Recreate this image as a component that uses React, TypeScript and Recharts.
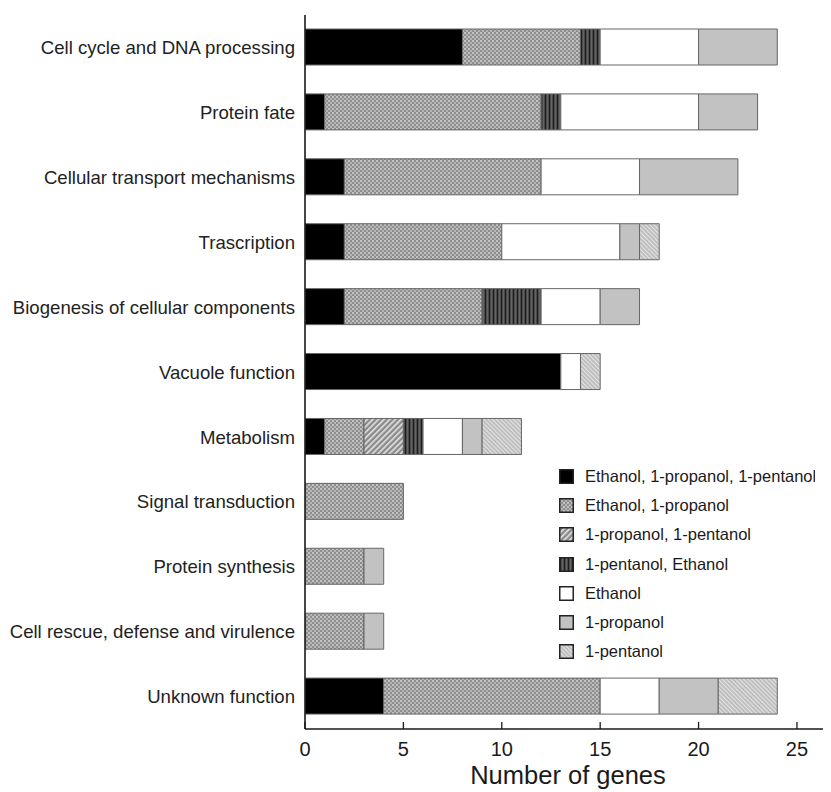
import { BarChart, Bar, XAxis, YAxis, Legend } from 'recharts'

const FONT = '"Liberation Sans", Arial, sans-serif'

const categories = [
  'Cell cycle and DNA processing',
  'Protein fate',
  'Cellular transport mechanisms',
  'Trascription',
  'Biogenesis of cellular components',
  'Vacuole function',
  'Metabolism',
  'Signal transduction',
  'Protein synthesis',
  'Cell rescue, defense and virulence',
  'Unknown function',
]

const ethPropPent = [8, 1, 2, 2, 2, 13, 1, 0, 0, 0, 4]
const ethProp = [6, 11, 10, 8, 7, 0, 2, 5, 3, 3, 11]
const propPent = [0, 0, 0, 0, 0, 0, 2, 0, 0, 0, 0]
const pentEth = [1, 1, 0, 0, 3, 0, 1, 0, 0, 0, 0]
const ethanol = [5, 7, 5, 6, 3, 1, 2, 0, 0, 0, 3]
const propanol = [4, 3, 5, 1, 2, 0, 1, 0, 1, 1, 3]
const pentanol = [0, 0, 0, 1, 0, 1, 2, 0, 0, 0, 3]

const xTicks = [0, 5, 10, 15, 20, 25]

const data = categories.map((name, i) => ({
  name,
  ethPropPent: ethPropPent[i],
  ethProp: ethProp[i],
  propPent: propPent[i],
  pentEth: pentEth[i],
  ethanol: ethanol[i],
  propanol: propanol[i],
  pentanol: pentanol[i],
}))

const series = [
  { key: 'ethPropPent', label: 'Ethanol, 1-propanol, 1-pentanol', fill: '#000000' },
  { key: 'ethProp', label: 'Ethanol, 1-propanol', fill: 'url(#patDots)' },
  { key: 'propPent', label: '1-propanol, 1-pentanol', fill: 'url(#patDiag)' },
  { key: 'pentEth', label: '1-pentanol, Ethanol', fill: 'url(#patStripes)' },
  { key: 'ethanol', label: 'Ethanol', fill: '#ffffff' },
  { key: 'propanol', label: '1-propanol', fill: '#c2c2c2' },
  { key: 'pentanol', label: '1-pentanol', fill: 'url(#patLight)' },
]
const order = series.map((s) => s.label)

const XTick = ({ x, y, payload }: any) => (
  <g>
    <line x1={x} x2={x} y1={y - 7} y2={y} stroke="#1a1a1a" strokeWidth={1.3} />
    <text x={x} y={y + 27} textAnchor="middle" fontSize={20} fill="#1a1a1a" fontFamily={FONT}>
      {payload.value}
    </text>
  </g>
)

const LegendBox = ({ payload }: any) => {
  const items = [...(payload || [])].sort((a: any, b: any) => order.indexOf(a.value) - order.indexOf(b.value))
  return (
    <div
      style={{
        width: 256,
        overflow: 'hidden',
        whiteSpace: 'nowrap',
        fontFamily: FONT,
        fontSize: 16.5,
        color: '#1a1a1a',
      }}
    >
      {items.map((p: any) => (
        <div key={p.value} style={{ display: 'flex', alignItems: 'center', height: 29.2 }}>
          <svg width={15} height={15} style={{ marginRight: 11, flex: 'none' }}>
            <rect x={0.75} y={0.75} width={13.5} height={13.5} fill={p.color} stroke="#222" strokeWidth={1.5} />
          </svg>
          <span>{p.value}</span>
        </div>
      ))}
    </div>
  )
}

export default function App() {
  return (
    <div style={{ width: 823, height: 784, overflow: 'hidden' }}>
      <BarChart
        width={823}
        height={784}
        data={data}
        layout="vertical"
        margin={{ top: 7, right: 0, bottom: 0, left: 0 }}
        barSize={36}
      >
        <defs>
          <pattern id="patDots" width="4" height="4" patternUnits="userSpaceOnUse">
            <rect width="4" height="4" fill="#8e8e8e" />
            <circle cx="1" cy="1" r="0.9" fill="#dcdcdc" />
            <circle cx="3" cy="3" r="0.9" fill="#c8c8c8" />
          </pattern>
          <pattern id="patDiag" width="4" height="4" patternUnits="userSpaceOnUse" patternTransform="rotate(45)">
            <rect width="4" height="4" fill="#8a8a8a" />
            <rect width="1.6" height="4" fill="#e4e4e4" />
          </pattern>
          <pattern id="patStripes" width="4" height="4" patternUnits="userSpaceOnUse">
            <rect width="4" height="4" fill="#4a4a4a" />
            <rect x="1" width="1" height="4" fill="#1e1e1e" />
            <rect x="3" width="0.8" height="4" fill="#6a6a6a" />
          </pattern>
          <pattern id="patLight" width="3" height="3" patternUnits="userSpaceOnUse" patternTransform="rotate(-45)">
            <rect width="3" height="3" fill="#bcbcbc" />
            <rect width="1.2" height="3" fill="#e2e2e2" />
          </pattern>
        </defs>
        <XAxis
          type="number"
          domain={[0, 26.73]}
          ticks={xTicks}
          allowDataOverflow
          height={63}
          tickSize={0}
          tickMargin={0}
          tick={<XTick />}
          axisLine={{ stroke: '#1a1a1a', strokeWidth: 1.6 }}
          label={{
            value: 'Number of genes',
            position: 'insideBottom',
            offset: 8,
            fontSize: 25.5,
            fill: '#1a1a1a',
            fontFamily: FONT,
          }}
        />
        <YAxis
          type="category"
          dataKey="name"
          width={297}
          tickSize={0}
          tickMargin={10}
          interval={0}
          tickLine={false}
          axisLine={{ stroke: '#1a1a1a', strokeWidth: 1.6 }}
          tick={{ fontSize: 18.6, fill: '#222', fontFamily: FONT }}
        />
        <Legend
          content={<LegendBox />}
          layout="vertical"
          align="center"
          verticalAlign="middle"
          wrapperStyle={{ left: 551, top: 454, width: 260 }}
        />
        {series.map((s) => (
          <Bar
            key={s.key}
            dataKey={s.key}
            name={s.label}
            stackId="a"
            fill={s.fill}
            stroke="#666"
            strokeWidth={1}
            isAnimationActive={false}
          />
        ))}
      </BarChart>
    </div>
  )
}
